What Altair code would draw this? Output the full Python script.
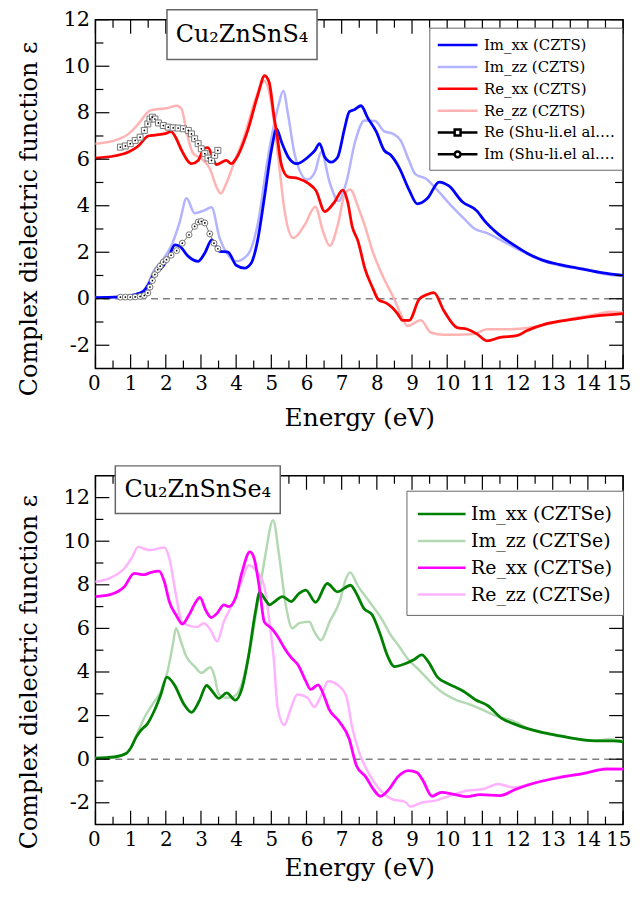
import altair as alt
import pandas as pd

FONT = "DejaVu Serif"

# ---------------- Cu2ZnSnS4 (top panel) ----------------
czts_im_xx_e = [0, 0.66, 1.13, 1.37, 1.51, 1.65, 1.88, 2.07, 2.26, 2.4, 2.64, 2.92, 3.11, 3.31, 3.53, 3.77, 4.0, 4.24, 4.43, 4.61, 4.8, 5.01, 5.15, 5.29, 5.48, 5.72, 6.05, 6.24, 6.37, 6.52, 6.7, 6.89, 7.08, 7.22, 7.36, 7.55, 7.74, 7.98, 8.21, 8.4, 8.63, 8.92, 9.15, 9.44, 9.77, 10.05, 10.43, 10.85, 11.04, 11.42, 11.89, 12.26, 12.73, 13.2, 13.77, 14.43, 15.0]
czts_im_xx_v = [0.05, 0.08, 0.18, 0.33, 0.61, 1.04, 1.32, 1.75, 2.32, 2.25, 1.82, 1.61, 1.97, 2.53, 2.04, 2.01, 1.44, 1.32, 1.54, 2.5, 4.32, 6.45, 7.31, 6.74, 6.1, 5.81, 6.1, 6.38, 6.67, 6.1, 5.88, 6.1, 7.31, 8.05, 8.13, 8.3, 7.78, 7.2, 6.38, 6.17, 5.65, 4.67, 4.08, 4.32, 5.02, 4.85, 4.17, 3.77, 3.39, 2.82, 2.32, 1.97, 1.65, 1.47, 1.3, 1.11, 1.0]

czts_im_zz_e = [0, 0.66, 1.13, 1.37, 1.51, 1.65, 1.88, 2.17, 2.4, 2.59, 2.82, 3.06, 3.3, 3.53, 3.77, 4.0, 4.33, 4.61, 4.9, 5.08, 5.2, 5.34, 5.48, 5.67, 6.02, 6.24, 6.42, 6.66, 6.91, 7.13, 7.38, 7.65, 7.95, 8.21, 8.45, 8.68, 8.9, 9.1, 9.39, 9.72, 10.1, 10.47, 10.76, 11.13, 11.6, 12.17, 12.73, 13.3, 13.96, 14.52, 15.0]
czts_im_zz_v = [0.05, 0.08, 0.18, 0.35, 0.7, 1.18, 1.61, 2.32, 3.32, 4.32, 3.68, 3.78, 3.93, 2.61, 1.89, 1.61, 1.89, 3.18, 6.03, 7.5, 8.3, 8.94, 7.88, 6.17, 5.12, 5.45, 6.31, 5.0, 4.2, 5.0, 6.74, 7.67, 7.64, 7.2, 7.1, 6.8, 6.0, 5.35, 5.17, 4.67, 4.03, 3.46, 3.03, 2.82, 2.46, 2.01, 1.62, 1.4, 1.26, 1.05, 0.98]

czts_re_xx_e = [0, 0.56, 0.94, 1.22, 1.5, 1.7, 1.98, 2.15, 2.3, 2.45, 2.73, 2.92, 3.1, 3.2, 3.34, 3.44, 3.63, 3.72, 3.86, 4.0, 4.33, 4.61, 4.81, 4.94, 5.08, 5.15, 5.29, 5.48, 5.76, 6.05, 6.27, 6.52, 6.8, 7.03, 7.17, 7.3, 7.46, 7.67, 7.88, 8.05, 8.26, 8.45, 8.6, 8.73, 8.92, 9.2, 9.43, 9.62, 9.91, 10.28, 10.57, 10.85, 11.13, 11.51, 11.98, 12.26, 12.83, 13.59, 14.24, 15.0]
czts_re_xx_v = [6.05, 6.15, 6.31, 6.57, 7.0, 7.04, 7.1, 7.19, 6.88, 6.38, 5.81, 5.95, 6.48, 6.5, 6.03, 5.77, 5.9, 5.95, 5.81, 6.03, 7.24, 8.73, 9.59, 9.3, 7.8, 7.17, 5.74, 5.24, 5.17, 4.96, 4.65, 3.75, 4.17, 4.67, 4.17, 3.1, 2.5, 1.25, 0.47, -0.05, -0.18, -0.4, -0.67, -0.93, -0.93, -0.03, 0.18, 0.26, -0.53, -1.24, -1.31, -1.52, -1.81, -1.66, -1.59, -1.38, -1.07, -0.88, -0.74, -0.64]

czts_re_zz_e = [0, 0.56, 0.94, 1.22, 1.55, 1.79, 2.02, 2.31, 2.45, 2.59, 2.78, 3.01, 3.25, 3.44, 3.56, 3.72, 3.95, 4.24, 4.52, 4.8, 5.01, 5.2, 5.38, 5.62, 5.95, 6.25, 6.47, 6.66, 6.89, 7.08, 7.24, 7.48, 7.65, 7.88, 8.19, 8.49, 8.68, 8.87, 9.25, 9.53, 9.91, 10.28, 10.76, 11.13, 11.79, 12.36, 12.92, 13.59, 14.24, 14.62, 15.0]
czts_re_zz_v = [6.67, 6.81, 7.09, 7.52, 8.09, 8.16, 8.19, 8.3, 8.16, 7.17, 6.24, 6.03, 5.6, 4.81, 4.53, 4.96, 5.88, 7.02, 8.45, 9.37, 8.3, 6.03, 3.75, 2.61, 3.18, 3.96, 2.89, 2.28, 3.18, 4.46, 4.7, 3.89, 3.18, 2.04, 0.9, 0.0, -0.67, -1.17, -0.93, -1.45, -1.55, -1.55, -1.52, -1.31, -1.31, -1.24, -1.07, -0.84, -0.67, -0.56, -0.6]

exp_re_e = [0.71, 0.85, 0.99, 1.13, 1.27, 1.39, 1.49, 1.55, 1.62, 1.69, 1.79, 1.93, 2.07, 2.21, 2.35, 2.5, 2.64, 2.73, 2.82, 2.92, 3.01, 3.11, 3.2, 3.3, 3.39, 3.48]
exp_re_v = [6.52, 6.57, 6.67, 6.81, 6.95, 7.24, 7.52, 7.73, 7.81, 7.73, 7.56, 7.45, 7.38, 7.35, 7.34, 7.31, 7.24, 7.09, 6.88, 6.67, 6.45, 6.24, 6.05, 5.95, 6.17, 6.38]
exp_im_e = [0.71, 0.85, 0.99, 1.13, 1.27, 1.39, 1.49, 1.55, 1.62, 1.69, 1.77, 1.84, 1.93, 2.02, 2.15, 2.31, 2.47, 2.66, 2.82, 2.92, 3.01, 3.11, 3.25, 3.37, 3.48]
exp_im_v = [0.07, 0.07, 0.07, 0.08, 0.1, 0.14, 0.25, 0.5, 0.78, 1.04, 1.25, 1.4, 1.58, 1.68, 1.87, 2.07, 2.39, 2.75, 3.11, 3.3, 3.33, 3.26, 2.79, 2.39, 2.15]

# ---------------- Cu2ZnSnSe4 (bottom panel) ----------------
cztse_im_xx_e = [0, 0.54, 0.87, 1.01, 1.15, 1.29, 1.48, 1.67, 1.86, 2.03, 2.24, 2.52, 2.73, 2.95, 3.16, 3.32, 3.51, 3.73, 3.98, 4.17, 4.36, 4.55, 4.67, 4.83, 4.95, 5.07, 5.32, 5.56, 5.79, 5.98, 6.26, 6.59, 6.88, 7.25, 7.44, 7.63, 7.87, 8.1, 8.29, 8.5, 8.84, 9.05, 9.28, 9.47, 9.73, 10.0, 10.28, 10.46, 10.79, 11.17, 11.55, 11.88, 12.26, 12.73, 13.2, 13.77, 14.33, 14.71, 15.0]
cztse_im_xx_v = [0.05, 0.1, 0.26, 0.53, 0.99, 1.32, 1.63, 2.21, 2.97, 3.76, 3.42, 2.51, 2.15, 2.67, 3.38, 3.12, 2.79, 3.04, 2.71, 3.27, 4.79, 6.77, 7.65, 7.31, 7.08, 7.2, 7.46, 7.23, 7.61, 7.76, 7.2, 8.06, 7.68, 7.98, 7.53, 6.92, 6.62, 5.71, 4.79, 4.25, 4.4, 4.56, 4.79, 4.45, 3.75, 3.48, 3.27, 3.12, 2.74, 2.44, 1.87, 1.63, 1.41, 1.22, 1.07, 0.91, 0.84, 0.84, 0.79]

cztse_im_zz_e = [0, 0.54, 0.87, 1.01, 1.2, 1.39, 1.62, 1.86, 2.05, 2.2, 2.29, 2.43, 2.58, 2.82, 3.01, 3.27, 3.37, 3.51, 3.7, 3.89, 4.12, 4.36, 4.59, 4.83, 5.05, 5.22, 5.41, 5.6, 5.79, 6.08, 6.22, 6.41, 6.66, 6.95, 7.11, 7.24, 7.46, 7.77, 8.15, 8.39, 8.62, 8.88, 9.24, 9.52, 9.83, 10.28, 10.65, 10.98, 11.4, 11.88, 12.35, 12.92, 13.49, 14.05, 14.62, 15.0]
cztse_im_zz_v = [0.05, 0.1, 0.26, 0.53, 1.22, 1.9, 2.51, 3.12, 4.03, 5.25, 6.01, 5.4, 4.72, 4.26, 3.96, 4.22, 3.88, 2.97, 2.82, 2.85, 3.27, 4.79, 6.92, 9.36, 10.96, 9.36, 7.08, 6.01, 6.24, 6.31, 5.86, 5.46, 6.31, 7.27, 8.22, 8.57, 7.95, 7.27, 6.4, 5.71, 5.2, 4.6, 4.03, 3.55, 3.1, 2.7, 2.51, 2.28, 1.98, 1.75, 1.37, 1.14, 0.99, 0.84, 0.91, 0.84]

cztse_re_xx_e = [0, 0.44, 0.82, 1.1, 1.39, 1.58, 1.81, 1.96, 2.1, 2.29, 2.47, 2.66, 2.85, 2.97, 3.13, 3.29, 3.46, 3.65, 3.79, 3.98, 4.17, 4.39, 4.5, 4.67, 4.8, 5.02, 5.18, 5.37, 5.56, 5.77, 5.98, 6.12, 6.33, 6.5, 6.64, 6.92, 7.21, 7.42, 7.68, 7.91, 8.1, 8.36, 8.6, 8.9, 9.14, 9.3, 9.57, 9.83, 10.2, 10.56, 10.93, 11.5, 11.97, 12.54, 13.2, 13.86, 14.52, 15.0]
cztse_re_xx_v = [7.46, 7.56, 7.91, 8.52, 8.47, 8.57, 8.63, 8.14, 7.23, 6.62, 6.2, 6.62, 7.2, 7.42, 6.85, 6.5, 6.7, 7.08, 7.0, 7.38, 8.6, 9.51, 9.28, 7.76, 6.3, 5.98, 5.63, 5.1, 4.67, 4.3, 3.58, 3.2, 3.41, 2.9, 2.3, 1.75, 0.95, -0.3, -0.8, -1.4, -1.7, -1.35, -0.8, -0.52, -0.61, -0.95, -1.7, -1.52, -1.61, -1.72, -1.63, -1.67, -1.37, -1.07, -0.84, -0.66, -0.46, -0.46]

cztse_re_zz_e = [0, 0.44, 0.82, 1.05, 1.21, 1.53, 1.96, 2.1, 2.29, 2.45, 2.66, 2.9, 3.08, 3.27, 3.46, 3.65, 3.93, 4.17, 4.36, 4.59, 4.79, 4.97, 5.07, 5.18, 5.37, 5.56, 5.74, 6.03, 6.22, 6.41, 6.62, 6.93, 7.13, 7.3, 7.5, 7.77, 8.05, 8.43, 8.8, 8.96, 9.28, 9.66, 10.04, 10.56, 11.03, 11.45, 11.88, 12.35, 13.1, 13.86, 14.52, 15.0]
cztse_re_zz_v = [8.14, 8.33, 8.75, 9.28, 9.74, 9.59, 9.71, 9.21, 7.53, 6.31, 6.13, 6.07, 6.24, 5.94, 5.4, 6.31, 7.23, 8.22, 8.9, 8.6, 8.0, 6.0, 4.6, 2.36, 1.57, 2.36, 2.97, 2.82, 2.39, 2.9, 3.58, 3.35, 2.9, 1.45, 0.3, -0.65, -1.33, -1.83, -1.96, -2.18, -1.99, -1.9, -1.7, -1.45, -1.37, -1.14, -1.3, -1.14, -0.84, -0.66, -0.41, -0.46]

# labels / styles
top_series = ["Im_xx (CZTS)", "Im_zz (CZTS)", "Re_xx (CZTS)", "Re_zz (CZTS)",
              "Re (Shu-li.el al. Exp.)", "Im (Shu-li.el al. Exp.)"]
top_colors = ["#0000ff", "#b3b3ff", "#ff0000", "#ffb3b3", "#000000", "#000000"]
bot_series = ["Im_xx (CZTSe)", "Im_zz (CZTSe)", "Re_xx (CZTSe)", "Re_zz (CZTSe)"]
bot_colors = ["#008000", "#b3d9b3", "#ff00ff", "#ffb3ff"]

x_major = list(range(0, 16))
x_minor = [i + 0.5 for i in range(0, 15)]
y_major = list(range(-2, 13, 2))
top_y_minor = list(range(-1, 12, 2))
bot_y_minor = list(range(-1, 13, 2))

W = 531
H = 351


def long_df(pairs):
    rows = []
    for name, es, vs in pairs:
        for e, v in zip(es, vs):
            rows.append({"E": e, "v": v, "series": name})
    return pd.DataFrame(rows)


def panel(df, series, colors, ydom, y_minor, paths, leg, title_txt, box,
          zz_names, xx_names, title_y, xtitle_pad, extra=None):
    xscale = alt.Scale(domain=[0, 15], nice=False, zero=False)
    yscale = alt.Scale(domain=ydom, nice=False, zero=False)
    xaxis = alt.Axis(values=x_major, ticks=False, domain=False, grid=False,
                     labelPadding=5, labelFontSize=20, labelFont=FONT,
                     labelOverlap=False, labelFlush=True, labelFlushOffset=8,
                     labelBound=False,
                     labelExpr="'' + datum.value", title="Energy (eV)",
                     titleFontSize=25, titlePadding=xtitle_pad)
    yaxis = alt.Axis(values=y_major, ticks=False, domain=False, grid=False,
                     labelPadding=6, labelFontSize=21, labelFont=FONT,
                     labelOverlap=False, labelFlush=False, labelBound=False,
                     labelExpr="'' + datum.value",
                     title="Complex dielectric function ε",
                     titleFontSize=24, titlePadding=22, titleY=title_y)

    def X(f):
        return alt.X(f, scale=xscale, axis=xaxis)

    def Y(f):
        return alt.Y(f, scale=yscale, axis=yaxis)

    lg = alt.Legend(title=None, orient="none", legendX=leg["x"], legendY=leg["y"],
                    fillColor="white", strokeColor="#666666", padding=leg["pad"],
                    symbolSize=leg["size"], labelFont=FONT, labelFontSize=leg["font"],
                    labelOffset=leg["off"], rowPadding=leg["row"], symbolOpacity=1,
                    labelColor="black", labelLimit=leg["limit"])
    cscale = alt.Scale(domain=series, range=colors)
    col = alt.Color("series:N", scale=cscale, legend=lg)

    zero = alt.Chart(pd.DataFrame({"z": [0]})).mark_rule(
        color="#808080", strokeDash=[7, 5], strokeWidth=1.5).encode(y=Y("z:Q"))
    zz = alt.Chart(df[df.series.isin(zz_names)]).mark_line(
        strokeWidth=2.5, interpolate="monotone").encode(x=X("E:Q"), y=Y("v:Q"), color=col)
    xx = alt.Chart(df[df.series.isin(xx_names)]).mark_line(
        strokeWidth=2.8, interpolate="monotone").encode(x=X("E:Q"), y=Y("v:Q"), color=col)
    legend_layer = alt.Chart(df).mark_point(opacity=0, filled=False).encode(
        x=X("E:Q"), y=Y("v:Q"),
        color=col,
        shape=alt.Shape("series:N", scale=alt.Scale(domain=series, range=paths), legend=lg),
    )
    layers = [zero, zz, xx]
    if extra is not None:
        layers += extra(X, Y)
    layers.append(legend_layer)

    # inward ticks on all four sides
    for vals, L in [(x_major, 14), (x_minor, 8)]:
        d = alt.Chart(pd.DataFrame({"t": vals})).mark_rule(color="black", strokeWidth=1.2)
        layers.append(d.encode(x=X("t:Q"), y=alt.value(H), y2=alt.value(H - L)))
        layers.append(d.encode(x=X("t:Q"), y=alt.value(0), y2=alt.value(L)))
    for vals, L in [(y_major, 14), (y_minor, 8)]:
        d = alt.Chart(pd.DataFrame({"t": vals})).mark_rule(color="black", strokeWidth=1.2)
        layers.append(d.encode(y=Y("t:Q"), x=alt.value(0), x2=alt.value(L)))
        layers.append(d.encode(y=Y("t:Q"), x=alt.value(W), x2=alt.value(W - L)))

    tdf = pd.DataFrame({"label": [title_txt]})
    rect = alt.Chart(tdf).mark_rect(fill="white", stroke="#666666", strokeWidth=1.5).encode(
        x=alt.value(box[0]), x2=alt.value(box[1]), y=alt.value(box[2]), y2=alt.value(box[3]))
    txt = alt.Chart(tdf).mark_text(font=FONT, fontSize=24, color="black", baseline="middle",
                                   align="center").encode(
        text="label:N", x=alt.value((box[0] + box[1]) / 2), y=alt.value((box[2] + box[3]) / 2))
    layers += [rect, txt]
    return alt.layer(*layers).properties(width=W, height=H)


top_df = long_df([
    (top_series[0], czts_im_xx_e, czts_im_xx_v),
    (top_series[1], czts_im_zz_e, czts_im_zz_v),
    (top_series[2], czts_re_xx_e, czts_re_xx_v),
    (top_series[3], czts_re_zz_e, czts_re_zz_v),
    (top_series[4], exp_re_e, exp_re_v),
    (top_series[5], exp_im_e, exp_im_v),
])
exp_re_df = pd.DataFrame({"E": exp_re_e, "v": exp_re_v})
exp_im_df = pd.DataFrame({"E": exp_im_e, "v": exp_im_v})


def exp_layers(X, Y):
    out = []
    for d, shp in ((exp_re_df, "square"), (exp_im_df, "circle")):
        base = alt.Chart(d)
        out.append(base.mark_line(color="#555555", strokeWidth=0.8).encode(x=X("E:Q"), y=Y("v:Q")))
        out.append(base.mark_point(shape=shp, size=36, filled=True, fill="white",
                                   stroke="#777777", strokeWidth=1, opacity=1).encode(x=X("E:Q"), y=Y("v:Q")))
        out.append(base.mark_circle(size=3, color="black", opacity=1).encode(x=X("E:Q"), y=Y("v:Q")))
    return out


top_paths = ["M-1,0L3.44,0"] * 4 + [
    "M-1,0L0.89,0M1.55,0L3.44,0M0.89,-0.33L1.55,-0.33L1.55,0.33L0.89,0.33Z",
    "M-1,0L0.89,0M1.55,0L3.44,0M0.89,0A0.33,0.33,0,1,1,1.55,0A0.33,0.33,0,1,1,0.89,0Z",
]

top = panel(top_df, top_series, top_colors, [-3, 12], top_y_minor, top_paths,
            {"x": 336, "y": 8, "pad": 7, "size": 324, "font": 15, "off": 27,
             "limit": 134, "row": 3},
            "Cu₂ZnSnS₄", (72, 223, -10, 40),
            top_series[1:4:2], top_series[0:3:2], 200, 12, extra=exp_layers)

bot_df = long_df([
    (bot_series[0], cztse_im_xx_e, cztse_im_xx_v),
    (bot_series[1], cztse_im_zz_e, cztse_im_zz_v),
    (bot_series[2], cztse_re_xx_e, cztse_re_xx_v),
    (bot_series[3], cztse_re_zz_e, cztse_re_zz_v),
])
bot_paths = ["M-1,0L3,0"] * 4

bottom = panel(bot_df, bot_series, bot_colors, [-3, 13], bot_y_minor, bot_paths,
               {"x": 313, "y": 15, "pad": 10, "size": 576, "font": 19, "off": 28,
                "limit": 300, "row": 3},
               "Cu₂ZnSnSe₄", (20, 186, -10, 38),
               bot_series[1:4:2], bot_series[0:3:2], 197, 6)

chart = alt.vconcat(top, bottom, spacing=33).resolve_scale(
    color="independent", shape="independent"
).properties(padding={"left": 8, "top": -3, "right": 0, "bottom": 0}).configure_view(
    stroke="black", strokeWidth=1.5
).configure_axis(
    labelColor="black", titleColor="black", titleFont=FONT, titleFontWeight="normal"
).configure_legend(symbolStrokeWidth=2.5)

chart.save("out.html", embed_options={"renderer": "svg", "actions": False})
